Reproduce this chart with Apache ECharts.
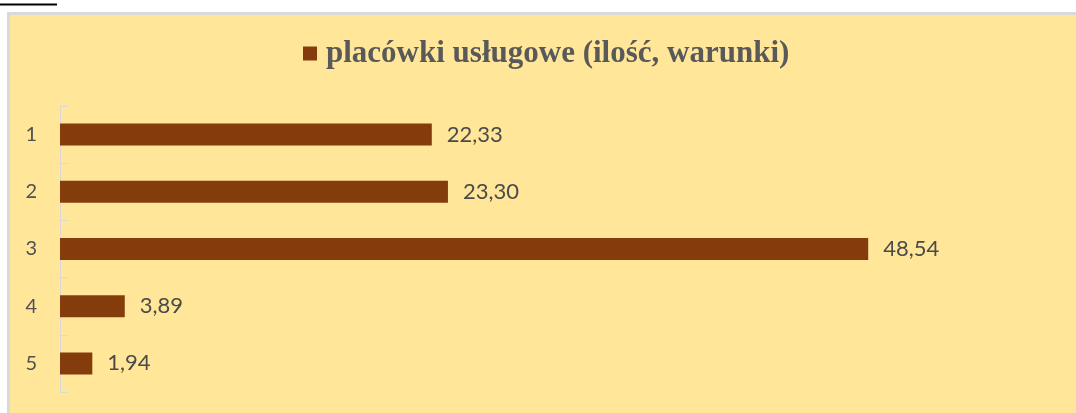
<!DOCTYPE html>
<html>
<head>
<meta charset="utf-8">
<script src="https://cdn.jsdelivr.net/npm/echarts@6/dist/echarts.min.js"></script>
<style>
html,body{margin:0;padding:0;background:#fff;}
#c{width:1076px;height:413px;}
</style>
</head>
<body>
<div id="c"></div>
<script>
const categories = ['1', '2', '3', '4', '5'];
const values = [22.33, 23.30, 48.54, 3.89, 1.94];
const seriesName = 'placówki usługowe (ilość, warunki)';

const chart = echarts.init(document.getElementById('c'), null, {renderer: 'canvas'});
chart.setOption({
  backgroundColor: '#ffffff',
  animation: false,
  graphic: [
    {type: 'rect', z: -10, shape: {x: 8.5, y: 13.5, width: 1100, height: 420},
     style: {fill: '#FFE699', stroke: '#D9D9D9', lineWidth: 3}},
    {type: 'line', z: -10, shape: {x1: 0, y1: 4.5, x2: 57, y2: 4.5},
     style: {stroke: '#000', lineWidth: 2}}
  ],
  legend: {
    data: [seriesName],
    left: 298,
    top: 33,
    icon: 'rect',
    itemWidth: 14,
    itemHeight: 14,
    textStyle: {fontFamily: 'Liberation Serif', fontWeight: 'bold', fontSize: 31, color: '#595959', padding: [0, 0, 0, 4]}
  },
  grid: {left: 60, right: 17, top: 106, bottom: 21, containLabel: false},
  xAxis: {type: 'value', min: 0, max: 60, show: false},
  yAxis: {
    type: 'category',
    inverse: true,
    data: categories,
    axisLine: {show: true, lineStyle: {color: '#D9D9D9', width: 1}},
    axisTick: {show: true, inside: true, length: 8, lineStyle: {color: '#D9D9D9'}},
    axisLabel: {fontFamily: 'Lato', fontSize: 20, color: '#505050', margin: 23}
  },
  series: [{
    name: seriesName,
    type: 'bar',
    data: values,
    barWidth: 22,
    itemStyle: {color: '#843C0C'},
    label: {
      show: true,
      position: 'right',
      distance: 15,
      fontFamily: 'Lato',
      fontSize: 22,
      color: '#4a4a4a',
      formatter: p => p.value.toFixed(2).replace('.', ',')
    }
  }]
});
</script>
</body>
</html>
